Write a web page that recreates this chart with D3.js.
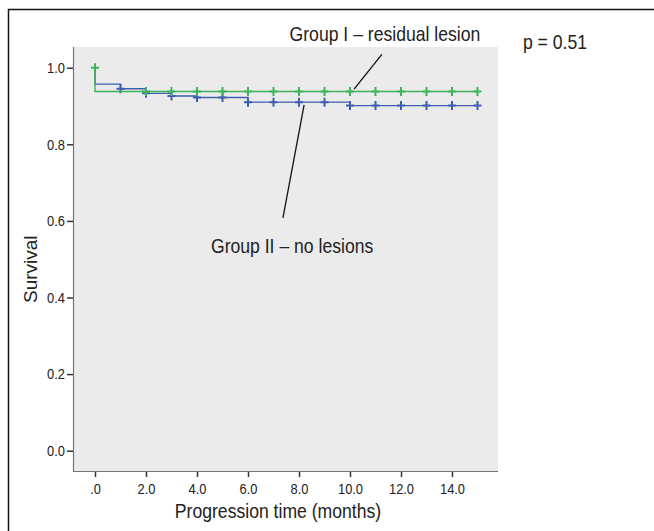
<!DOCTYPE html>
<html>
<head>
<meta charset="utf-8">
<script src="https://cdn.jsdelivr.net/npm/d3@7"></script>
<style>
  body { margin: 0; background: #fff; }
  text { font-family: 'Liberation Sans Narrow', 'Arial Narrow', 'Liberation Sans', Arial, sans-serif; fill: #222; }
</style>
</head>
<body>
<div class="vis-container"></div>
<script>
// Kaplan-Meier steps (time in months, survival)
const groupITimes = [0, 0, 15];
const groupISurv = [1.0, 0.938, 0.938];
const groupICensorTimes = [0, 2, 3, 4, 5, 6, 7, 8, 9, 10, 11, 12, 13, 14, 15];
const groupICensorSurv = [1.0, 0.938, 0.938, 0.938, 0.938, 0.938, 0.938, 0.938, 0.938, 0.938, 0.938, 0.938, 0.938, 0.938, 0.938];

const groupIITimes = [0, 0, 1, 2, 3, 4, 6, 10, 15];
const groupIISurv = [1.0, 0.957, 0.945, 0.933, 0.926, 0.922, 0.91, 0.901, 0.901];
const groupIICensorTimes = [1, 2, 3, 4, 5, 6, 7, 8, 9, 10, 11, 12, 13, 14, 15];
const groupIICensorSurv = [0.945, 0.933, 0.926, 0.922, 0.922, 0.91, 0.91, 0.91, 0.91, 0.901, 0.901, 0.901, 0.901, 0.901, 0.901];

const xTicks = [0, 2, 4, 6, 8, 10, 12, 14];
const yTicks = [0, 0.2, 0.4, 0.6, 0.8, 1.0];

const W = 654, H = 531;
const plot = { left: 73, top: 47, right: 498, bottom: 472 };
const narrow = 0.86; // the original uses a condensed face

const svg = d3
  .select('.vis-container')
  .append('svg')
  .attr('width', W)
  .attr('height', H);

// squeeze text horizontally around its own anchor point
function condense(sel, sx) {
  sel.attr('transform', function () {
    const x = +this.getAttribute('x') || 0;
    const y = +this.getAttribute('y') || 0;
    return `translate(${x},${y}) scale(${sx},1) translate(${-x},${-y})`;
  });
}

// outer frame (top and left only)
svg.append('path')
  .attr('d', `M8.5,${H}V9.5H${W}`)
  .attr('fill', 'none')
  .attr('stroke', '#111')
  .attr('stroke-width', 1.5);

const xScale = d3.scaleLinear().domain([0, 14]).range([95, 452]);
const yScale = d3.scaleLinear().domain([0, 1]).range([450.7, 67.7]);

// plot background
svg.append('rect')
  .attr('x', plot.left)
  .attr('y', plot.top)
  .attr('width', plot.right - plot.left)
  .attr('height', plot.bottom - plot.top)
  .attr('fill', '#ebebeb');

svg.append('path')
  .attr('d', `M${plot.left + 0.5},${plot.top}V${plot.bottom - 0.5}H${plot.right}`)
  .attr('fill', 'none')
  .attr('stroke', '#777')
  .attr('stroke-width', 1.2);

// axes
const yAxis = d3.axisLeft(yScale).tickValues(yTicks).tickSize(6).tickPadding(2)
  .tickFormat(d3.format('.1f'));
svg.append('g')
  .attr('transform', `translate(${plot.left},0)`)
  .call(yAxis)
  .call((g) => g.select('.domain').remove())
  .call((g) => g.selectAll('.tick line').attr('stroke', '#333').attr('stroke-width', 1.5))
  .call((g) => g.selectAll('.tick text').attr('font-size', 15).attr('fill', '#222').call(condense, narrow));

const xAxis = d3.axisBottom(xScale).tickValues(xTicks).tickSize(5).tickPadding(6)
  .tickFormat((d) => (d === 0 ? '.0' : d3.format('.1f')(d)));
svg.append('g')
  .attr('transform', `translate(0,${plot.bottom})`)
  .call(xAxis)
  .call((g) => g.select('.domain').remove())
  .call((g) => g.selectAll('.tick line').attr('stroke', '#333').attr('stroke-width', 1.5))
  .call((g) => g.selectAll('.tick text').attr('font-size', 15).attr('fill', '#222').call(condense, narrow));

// axis titles
svg.append('text')
  .attr('x', 278)
  .attr('y', 518)
  .attr('text-anchor', 'middle')
  .attr('font-size', 20)
  .text('Progression time (months)')
  .call(condense, 0.88);

svg.append('text')
  .attr('transform', `translate(37,${yScale(0.5) + 10}) rotate(-90)`)
  .attr('text-anchor', 'middle')
  .attr('font-size', 19)
  .text('Survival');

// survival curves
const line = d3.line()
  .curve(d3.curveStepAfter)
  .x((d) => xScale(d[0]))
  .y((d) => yScale(d[1]));

const series = [
  { times: groupIITimes, surv: groupIISurv, ct: groupIICensorTimes, cs: groupIICensorSurv, color: '#3d5fb0' },
  { times: groupITimes, surv: groupISurv, ct: groupICensorTimes, cs: groupICensorSurv, color: '#3db35a' }
];

series.forEach((s) => {
  svg.append('path')
    .datum(d3.zip(s.times, s.surv))
    .attr('fill', 'none')
    .attr('stroke', s.color)
    .attr('stroke-width', 1.4)
    .attr('d', line);

  svg.append('g')
    .selectAll('path')
    .data(d3.zip(s.ct, s.cs))
    .join('path')
    .attr('transform', (d) => `translate(${xScale(d[0])},${yScale(d[1])})`)
    .attr('d', 'M-4,0H4M0,-4.5V4.5')
    .attr('stroke', s.color)
    .attr('stroke-width', 2);
});

// annotations
const notes = [
  { text: 'Group I \u2013 residual lesion', t: 11.37, s: 1.069, anchor: 'middle' },
  { text: 'Group II \u2013 no lesions', t: 7.73, s: 0.516, anchor: 'middle' },
  { text: 'p = 0.51', t: 16.78, s: 1.049, anchor: 'start' }
];
svg.append('g')
  .selectAll('text')
  .data(notes)
  .join('text')
  .attr('x', (d) => xScale(d.t))
  .attr('y', (d) => yScale(d.s))
  .attr('text-anchor', (d) => d.anchor)
  .attr('font-size', 20)
  .text((d) => d.text)
  .call(condense, 0.88);

const leaders = [
  [[11.25, 1.035], [10.16, 0.944]],
  [[8.2, 0.903], [7.37, 0.608]]
];
svg.append('g')
  .selectAll('line')
  .data(leaders)
  .join('line')
  .attr('x1', (d) => xScale(d[0][0]))
  .attr('y1', (d) => yScale(d[0][1]))
  .attr('x2', (d) => xScale(d[1][0]))
  .attr('y2', (d) => yScale(d[1][1]))
  .attr('stroke', '#111')
  .attr('stroke-width', 1.3);
</script>
</body>
</html>
